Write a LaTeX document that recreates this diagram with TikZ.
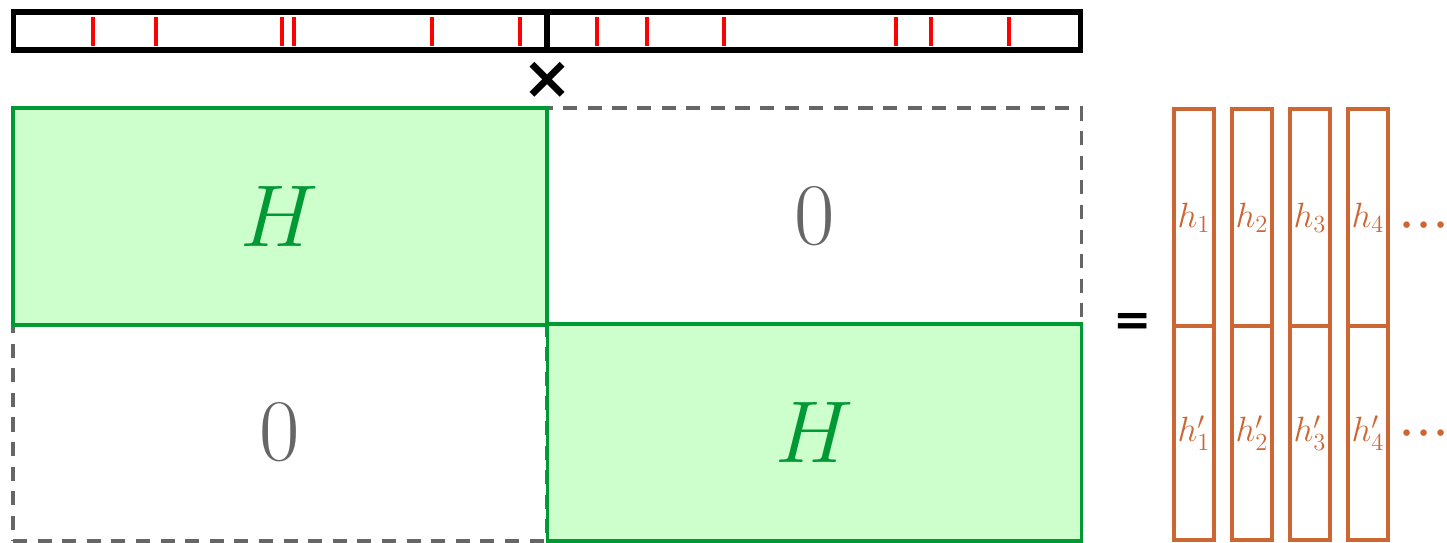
\RequirePackage{fix-cm}
\documentclass[tikz,border=0pt]{standalone}
\usepackage{fontspec}
\newfontfamily\symfont{DejaVu Sans}
\usetikzlibrary{positioning}
\definecolor{mxGreen}{HTML}{009933}
\definecolor{mxGreenL}{HTML}{CCFFCC}
\definecolor{mxGray}{HTML}{666666}
\definecolor{mxOrange}{HTML}{CC6633}
\definecolor{mxRed}{HTML}{FF0000}
\tikzset{
  mx-bar/.style={draw=black, line width=2.9pt, outer sep=0pt, inner sep=0pt,
    minimum width=10.68cm, minimum height=0.76cm},
  mx-tick/.style={draw=mxRed, line width=2.8pt},
  mx-blk/.style={outer sep=0pt, inner sep=0pt, minimum width=10.68cm,
    minimum height=4.33cm, font=\fontsize{50}{60}\selectfont},
  mx-h/.style={mx-blk, draw=mxGreen, fill=mxGreenL, line width=2.2pt,
    text=mxGreen},
  mx-zero/.style={mx-blk, draw=mxGray, dash pattern=on 8pt off 6pt,
    line width=2.2pt, text=mxGray},
  mx-col/.style={draw=mxOrange, line width=2.5pt, outer sep=0pt,
    inner sep=0pt, minimum width=0.8cm},
  mx-lbl/.style={text=mxOrange, font=\fontsize{20}{24}\selectfont,
    inner sep=0pt},
  mx-dots/.style={text=mxOrange, font=\fontsize{35}{40}\selectfont,
    inner sep=0pt, anchor=base},
  mx-sym/.style={font=\symfont\bfseries\fontsize{34}{34}\selectfont,
    inner sep=0pt}
}
\begin{document}
\begin{tikzpicture}[x=0.02cm, y=-0.02cm]
\useasboundingbox (0,0) rectangle (1447,543);

% vector on top
\node[mx-bar] (barL) at (280,31) {};
\node[mx-bar, right=0pt of barL] (barR) {};
\foreach \x in {93,156,282,294,432,520,597,647,724,896,931,1009}
  \draw[mx-tick] (\x,17) -- (\x,46);
\node[mx-sym] (times) at (548,80) {×};

% block matrix
\node[mx-zero] (z1) at (814.5,216.5) {$0$};
\node[mx-zero] (z2) at (280,432.5) {$0$};
\node[mx-h] (h1) at (280,216.5) {$H$};
\node[mx-h] (h2) at (814.5,432.5) {$H$};

\node[mx-sym, font=\symfont\bfseries\fontsize{26}{26}\selectfont] (eq)
  at (1133,324) {=};

% result columns
\foreach \i [evaluate=\i as \x using 1136+58*\i] in {1,...,4}{
  \node[mx-col, minimum height=4.34cm] (c\i) at (\x,217.5) {};
  \node[mx-col, minimum height=4.28cm] (d\i) at (\x,433) {};
  \node[mx-lbl] (hl\i) at (c\i) {$h_{\i}$};
  \node[mx-lbl] (hb\i) at (d\i) {$h'_{\i}$};
}
\node[mx-dots] (dt1) at (1424,241) {${\cdot}{\cdot}{\cdot}$};
\node[mx-dots] (dt2) at (1424,449) {${\cdot}{\cdot}{\cdot}$};
\end{tikzpicture}
\end{document}
